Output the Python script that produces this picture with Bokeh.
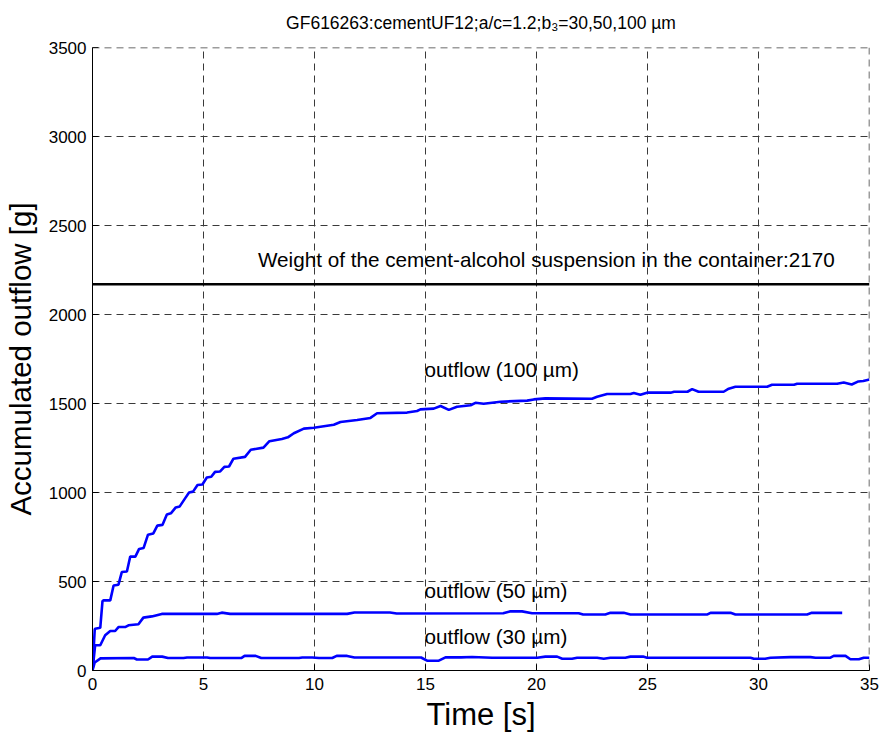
from bokeh.plotting import figure
from bokeh.models import Range1d, FixedTicker, ColumnDataSource, Span
from bokeh.core.properties import value
from bokeh.embed import file_html
from bokeh.resources import INLINE

# ---------------- data ----------------
title_text = "GF616263:cementUF12;a/c=1.2;b\u2083=30,50,100 \u00b5m"
x_label = "Time [s]"
y_label = "Accumulated outflow [g]"
x_ticks = [0, 5, 10, 15, 20, 25, 30, 35]
y_ticks = [0, 500, 1000, 1500, 2000, 2500, 3000, 3500]

t100 = [0, 0.1, 0.12, 0.35, 0.45, 0.5, 0.8, 0.95, 1.17, 1.32,
        1.55, 1.7, 1.93, 2.1, 2.3, 2.5, 2.74, 2.92, 3.15, 3.35,
        3.53, 3.75, 3.93, 4.17, 4.35, 4.53, 4.73, 4.95, 5.15, 5.35,
        5.52, 5.75, 5.94, 6.15, 6.35, 6.87, 7.13, 7.7, 7.97, 8.53,
        8.8, 9.07, 9.52, 9.97, 10.87, 11.17, 11.92, 12.52, 12.82, 14.17,
        14.62, 14.77, 15.37, 15.68, 16.05, 16.42, 17.03, 17.25, 17.62, 18.38,
        19.58, 19.88, 20.4, 22.5, 22.73, 23.18, 24.23, 24.38, 24.68, 24.98,
        26.04, 26.2, 26.8, 27.01, 27.3, 28.43, 28.66, 28.96, 30.39, 30.61,
        31.6, 31.74, 33.54, 33.84, 34.2, 34.5, 34.72, 35]
v100 = [0, 230, 235, 240, 390, 394, 394, 478, 482, 553,
        556, 640, 640, 683, 688, 763, 770, 814, 818, 876,
        883, 916, 922, 967, 1000, 1005, 1042, 1045, 1084, 1088,
        1116, 1118, 1144, 1146, 1190, 1200, 1240, 1252, 1288, 1301,
        1310, 1333, 1359, 1364, 1381, 1396, 1407, 1419, 1445, 1449,
        1458, 1467, 1471, 1486, 1464, 1482, 1490, 1504, 1499, 1510,
        1516, 1523, 1529, 1527, 1538, 1553, 1553, 1559, 1549, 1561,
        1561, 1566, 1566, 1581, 1566, 1566, 1583, 1594, 1594, 1605,
        1605, 1611, 1611, 1618, 1607, 1624, 1626, 1635]

t50 = [0, 0.12, 0.35, 0.57, 0.8, 1.02, 1.17, 1.47, 1.62, 2.07,
       2.29, 2.67, 3.12, 5.6, 5.82, 6.2, 11.47, 11.8, 13.4, 13.7,
       18.5, 18.8, 19.35, 19.8, 21.9, 22.1, 23.1, 23.33, 23.93, 24.23,
       27.7, 27.84, 28.74, 28.96, 32.19, 32.4, 33.77]
v50 = [0, 142, 142, 198, 222, 222, 244, 244, 254, 260,
       297, 304, 318, 318, 325, 318, 318, 326, 326, 320,
       322, 332, 332, 322, 322, 315, 315, 324, 324, 315,
       315, 324, 324, 315, 315, 324, 324]

t30 = [0, 0.1, 0.36, 1.86, 2.0, 2.5, 2.69, 3.14, 3.4, 4.1,
       4.26, 5.16, 5.3, 6.7, 6.85, 7.35, 7.6, 9.3, 9.45, 9.9,
       10.2, 10.8, 11.0, 11.47, 11.8, 14.8, 15.07, 15.6, 15.9, 16.6,
       17.1, 18.0, 20.03, 20.4, 20.93, 21.16, 21.6, 21.83, 22.73, 23.03,
       23.33, 24.0, 24.23, 24.8, 24.98, 29.64, 29.79, 30.3, 30.54, 31.44,
       32.34, 32.57, 33.24, 33.39, 33.92, 34.14, 34.52, 34.74, 35]
v30 = [0, 45, 68, 70, 62, 62, 78, 78, 70, 70,
       73, 73, 70, 70, 82, 82, 70, 70, 73, 73,
       70, 70, 82, 82, 73, 73, 55, 55, 74, 74,
       76, 72, 72, 78, 78, 66, 66, 72, 72, 66,
       72, 72, 78, 78, 72, 72, 66, 66, 72, 75,
       75, 72, 72, 82, 82, 63, 63, 72, 72]

weight_value = 2170
weight_span = [0, 35]

note_texts = ["Weight of the cement-alcohol suspension in the container:2170",
              "outflow (100 \u00b5m)", "outflow (50 \u00b5m)", "outflow (30 \u00b5m)"]
note_x = [7.45, 14.95, 14.95, 14.95]
note_y = [2310, 1690, 448, 192]

# ---------------- figure ----------------
FONT = "Liberation Sans"

p = figure(width=880, height=734, output_backend="svg", toolbar_location=None,
           x_range=Range1d(0, 35), y_range=Range1d(0, 3500),
           min_border_left=92, min_border_right=11, min_border_top=47,
           min_border_bottom=62, title=title_text)
p.outline_line_color = None
p.background_fill_color = "white"
p.border_fill_color = "white"

p.title.text_font = FONT
p.title.text_font_size = "17.5px"
p.title.text_font_style = "normal"
p.title.text_color = "black"
p.title.align = "center"
p.title.vertical_align = "top"
p.title.standoff = 25

xt = FixedTicker(ticks=x_ticks)
yt = FixedTicker(ticks=y_ticks)

for ax, tk in ((p.xaxis[0], xt), (p.yaxis[0], yt)):
    ax.ticker = tk
    ax.major_tick_in = 6
    ax.major_tick_out = 0
    ax.minor_tick_in = 0
    ax.minor_tick_out = 0
    ax.axis_line_color = "black"
    ax.axis_line_width = 1
    ax.major_tick_line_color = "black"
    ax.major_label_text_font = FONT
    ax.major_label_text_font_size = "17px"
    ax.major_label_text_color = "black"
    ax.axis_label_text_font = FONT
    ax.axis_label_text_font_style = "normal"
    ax.axis_label_text_color = "black"

p.xaxis[0].axis_label = x_label
p.yaxis[0].axis_label = y_label
p.xaxis[0].axis_label_text_font_size = "31px"
p.yaxis[0].axis_label_text_font_size = "29.5px"
p.xaxis[0].major_label_standoff = 7
p.yaxis[0].major_label_standoff = 6
p.xaxis[0].axis_label_standoff = 4
p.yaxis[0].axis_label_standoff = 9

GRID_COLOR = "#3a3a3a"
for g, tk in ((p.xgrid[0], xt), (p.ygrid[0], yt)):
    g.ticker = tk
    g.grid_line_color = GRID_COLOR
    g.grid_line_dash = "7 5"
    g.grid_line_width = 1

# dashed grid lines along the top and right edges (at the last ticks)
p.add_layout(Span(location=y_ticks[-1], dimension="width", line_color=GRID_COLOR,
                  line_dash="7 5", line_width=1.5))
p.add_layout(Span(location=x_ticks[-1], dimension="height", line_color=GRID_COLOR,
                  line_dash="7 5", line_width=1.5))

# ---------------- marks ----------------
p.line(weight_span, [weight_value, weight_value], line_color="black", line_width=2.6)
p.line(t100, v100, line_color="#0000ff", line_width=2.6)
p.line(t50, v50, line_color="#0000ff", line_width=2.6)
p.line(t30, v30, line_color="#0000ff", line_width=2.6)

notes = ColumnDataSource(dict(x=note_x, y=note_y, text=note_texts))
p.text(x="x", y="y", text="text", source=notes, text_font=value(FONT),
       text_font_size="20.7px", text_align="left", text_baseline="middle",
       text_color="black")

open("out.html", "w").write(file_html(p, INLINE))
